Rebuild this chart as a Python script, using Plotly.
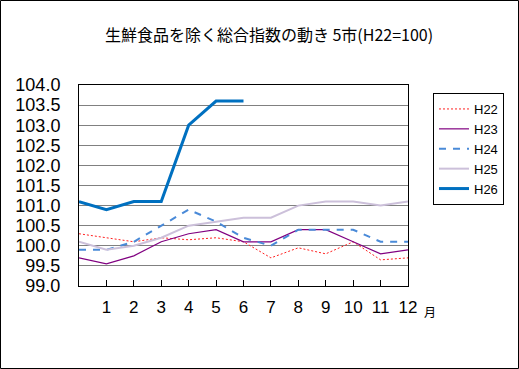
import plotly.graph_objects as go

months = list(range(0, 13))
month_labels = [str(m) for m in range(1, 13)]
series_names = ["H22", "H23", "H24", "H25", "H26"]
h22 = [100.3, 100.2, 100.1, 100.2, 100.15, 100.2, 100.1, 99.7, 99.95, 99.8, 100.1, 99.65, 99.7]
h23 = [99.7, 99.55, 99.75, 100.1, 100.3, 100.4, 100.1, 100.1, 100.4, 100.4, 100.1, 99.8, 99.9]
h24 = [99.9, 99.9, 100.1, 100.5, 100.9, 100.6, 100.2, 100.0, 100.4, 100.4, 100.4, 100.1, 100.1]
h25 = [100.1, 99.9, 100.0, 100.2, 100.5, 100.6, 100.7, 100.7, 101.0, 101.1, 101.1, 101.0, 101.1]
h26 = [101.1, 100.9, 101.1, 101.1, 103.0, 103.6, 103.6]

title_text = "生鮮食品を除く総合指数の動き 5市(H22=100)"
unit_text = "月"

styles = {
    "H22": dict(color="#FF2020", width=1, dash="2px,2px"),
    "H23": dict(color="#800080", width=1.2, dash="solid"),
    "H24": dict(color="#4A8AD8", width=2, dash="7px,7px"),
    "H25": dict(color="#CCC0DA", width=2, dash="solid"),
    "H26": dict(color="#0070C0", width=3, dash="solid"),
}
data = {"H22": h22, "H23": h23, "H24": h24, "H25": h25, "H26": h26}

num_font = "Liberation Sans Narrow, Arial Narrow, Liberation Sans, Arial, sans-serif"
jp_font = "Noto Sans CJK JP, sans-serif"

W, H = 519, 369
L, R, T, B = 79, 408, 85, 286
PW, PH = R - L, B - T

fig = go.Figure()
for name in series_names:
    vals = data[name]
    fig.add_trace(go.Scatter(
        x=months[:len(vals)], y=vals, mode="lines", name=name,
        line=styles[name],
    ))

fig.update_layout(
    width=W, height=H,
    margin=dict(l=L, r=W - R, t=T, b=H - B),
    paper_bgcolor="white", plot_bgcolor="white",
    title=dict(text=title_text, x=269 / W, xanchor="center", xref="container",
               y=1 - 35 / H, yref="container", yanchor="middle",
               font=dict(family=jp_font, size=16, color="black")),
    showlegend=True,
    legend=dict(x=(433 - L) / PW, y=(B - 93) / PH, xanchor="left", yanchor="top",
                bordercolor="black", borderwidth=1, bgcolor="white",
                font=dict(family=num_font, size=13, color="black"),
                tracegroupgap=0, itemwidth=30),
    annotations=[dict(text=unit_text, xref="paper", yref="paper",
                      x=(430 - L) / PW, y=(B - 311) / PH,
                      xanchor="center", yanchor="middle", showarrow=False,
                      font=dict(family=jp_font, size=12, color="black"))],
)

fig.update_xaxes(range=[0, 12], tickmode="array", tickvals=list(range(1, 13)),
                 ticktext=month_labels, ticks="inside", ticklen=6, tickcolor="black",
                 showgrid=False, showline=True, linecolor="black", linewidth=1, mirror=True,
                 zeroline=False, ticklabelstandoff=6,
                 tickfont=dict(family=num_font, size=17, color="black"))
fig.update_yaxes(range=[99, 104], dtick=0.5, tick0=99, tickformat=".1f",
                 showgrid=True, gridcolor="#808080", gridwidth=1,
                 showline=True, linecolor="black", linewidth=1, mirror=True,
                 zeroline=False, ticks="", ticklabelstandoff=14,
                 tickfont=dict(family=num_font, size=18, color="black"))

fig.add_shape(type="rect", xref="paper", yref="paper",
              x0=(0.5 - L) / PW, x1=(W - 0.5 - L) / PW,
              y0=(B - (H - 0.5)) / PH, y1=(B - 0.5) / PH,
              line=dict(color="black", width=1),
              fillcolor="rgba(0,0,0,0)", layer="above")

fig.write_html("out.html", config={"displayModeBar": False},
               post_script="document.body.style.margin='0';document.body.style.overflow='hidden';")
